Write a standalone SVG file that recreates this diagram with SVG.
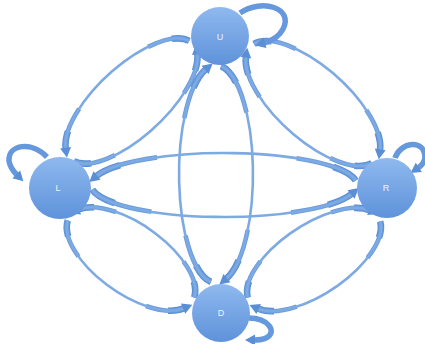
<svg xmlns="http://www.w3.org/2000/svg" xmlns:xlink="http://www.w3.org/1999/xlink" width="425" height="344" viewBox="0 0 425 344">
<defs>
<style>
.c0{fill:none;stroke:#7eaae3;stroke-width:2.6;marker-end:url(#ah)}
.c1{fill:none;stroke:#6c9ede;stroke-width:4.6;stroke-dasharray:24 52 24 100}
.c2{fill:none;stroke:#5a8fd6;stroke-width:6.6;stroke-dasharray:10 80 10 100}
.loop{fill:none;stroke:#6598dc;stroke-width:5.5;marker-end:url(#ah)}
.node circle{fill:url(#ng)}
.node text{font-family:"Liberation Sans",Arial,sans-serif;font-size:9px;fill:#eef4fc;text-anchor:middle}
</style>
<linearGradient id="ng" x1="0" y1="0" x2="0" y2="1"><stop offset="0" stop-color="#8fb9ef"/><stop offset="1" stop-color="#5e92da"/></linearGradient>
<marker id="ah" markerUnits="userSpaceOnUse" viewBox="0 -6 10 12" markerWidth="10" markerHeight="12" refX="1" refY="0" orient="auto" overflow="visible"><path d="M0,-5.5 L10,0 L0,5.5 Z" fill="#5a8fd6"/></marker>
<path id="ul1" transform="translate(131.5,101) rotate(-42.8)" pathLength="100" d="M83.2,-4.9 A84,35 0 0 0 -80.7,-9.7"/>
<path id="ul2" transform="translate(131.5,101) rotate(-42.8)" pathLength="100" d="M-83.2,4.9 A84,35 0 0 0 80.7,9.7"/>
<path id="ur1" transform="translate(313,103.5) rotate(41.9)" pathLength="100" d="M-83.7,-5 A84.5,36 0 0 1 81.2,-9.9"/>
<path id="ur2" transform="translate(313,103.5) rotate(41.9)" pathLength="100" d="M83.7,5 A84.5,36 0 0 1 -81.2,9.9"/>
<path id="ld1" transform="translate(131,259) rotate(35.2)" pathLength="100" d="M-73.9,4.9 A74.6,35 0 0 0 71.7,9.7"/>
<path id="ld2" transform="translate(131,259) rotate(35.2)" pathLength="100" d="M73.9,-4.9 A74.6,35 0 0 0 -71.7,-9.7"/>
<path id="rd1" transform="translate(314,259.5) rotate(-33.6)" pathLength="100" d="M76.2,4.9 A77,35 0 0 1 -74,9.7"/>
<path id="rd2" transform="translate(314,259.5) rotate(-33.6)" pathLength="100" d="M-76.2,-4.9 A77,35 0 0 1 74,-9.7"/>
<path id="lr1" transform="translate(224,185)" pathLength="100" d="M131.7,-4.5 A133,32 0 0 0 -127.8,-8.8"/>
<path id="lr2" transform="translate(224,185)" pathLength="100" d="M-131.7,4.5 A133,32 0 0 0 127.8,8.8"/>
<path id="ud1" transform="translate(216,174) rotate(90)" pathLength="100" d="M107.9,5.1 A109,37 0 0 1 -104.8,10.2"/>
<path id="ud2" transform="translate(216,174) rotate(90)" pathLength="100" d="M-107.9,-5.1 A109,37 0 0 1 104.8,-10.2"/>
</defs>
<rect width="425" height="344" fill="#ffffff"/>
<g id="connectors">
<use href="#ul1" class="c2"/><use href="#ul1" class="c1"/><use href="#ul1" class="c0"/>
<use href="#ul2" class="c2"/><use href="#ul2" class="c1"/><use href="#ul2" class="c0"/>
<use href="#ur1" class="c2"/><use href="#ur1" class="c1"/><use href="#ur1" class="c0"/>
<use href="#ur2" class="c2"/><use href="#ur2" class="c1"/><use href="#ur2" class="c0"/>
<use href="#ld1" class="c2"/><use href="#ld1" class="c1"/><use href="#ld1" class="c0"/>
<use href="#ld2" class="c2"/><use href="#ld2" class="c1"/><use href="#ld2" class="c0"/>
<use href="#rd1" class="c2"/><use href="#rd1" class="c1"/><use href="#rd1" class="c0"/>
<use href="#rd2" class="c2"/><use href="#rd2" class="c1"/><use href="#rd2" class="c0"/>
<use href="#lr1" class="c2"/><use href="#lr1" class="c1"/><use href="#lr1" class="c0"/>
<use href="#lr2" class="c2"/><use href="#lr2" class="c1"/><use href="#lr2" class="c0"/>
<use href="#ud1" class="c2"/><use href="#ud1" class="c1"/><use href="#ud1" class="c0"/>
<use href="#ud2" class="c2"/><use href="#ud2" class="c1"/><use href="#ud2" class="c0"/>
<path class="loop" d="M240,13 C262,-2 294,8 283,29 C279,37 271,41 264,43"/>
<path class="loop" d="M47,157 C32,141 8,144 9,161 C10,167 13,171 17,175"/>
<path class="loop" d="M395,158 C400,142 425,138 425,158 C424,163 421,166 418,168"/>
<path class="loop" d="M249,318 C268,318 278,332 266,338 C262,340 258,340 254,340"/>
</g>
<g id="node-U" class="node"><circle cx="220" cy="36" r="29"/><text x="220" y="40">U</text></g>
<g id="node-L" class="node"><circle cx="60" cy="188" r="31"/><text x="58" y="191">L</text></g>
<g id="node-R" class="node"><circle cx="387" cy="188" r="30"/><text x="386" y="191">R</text></g>
<g id="node-D" class="node"><circle cx="221" cy="313" r="29"/><text x="221" y="316">D</text></g>
</svg>
